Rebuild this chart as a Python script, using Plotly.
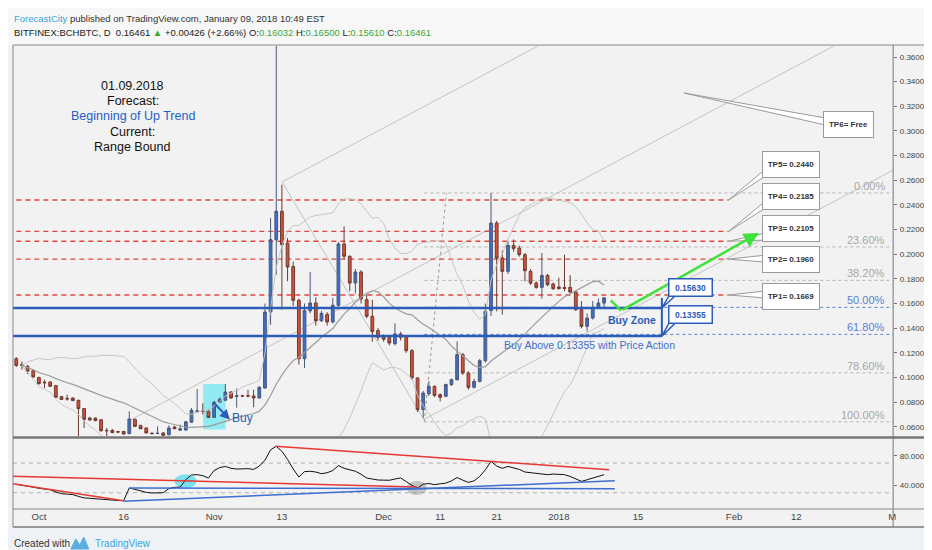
import pandas as pd
import plotly.graph_objects as go

W, H = 932, 550
FONT = "Liberation Sans, Arial, sans-serif"

# ---------------- data ----------------
start_date = "2017-09-27"

opens = [0.1152, 0.1103, 0.1090, 0.1055, 0.1000, 0.0962, 0.0963, 0.0933, 0.0844, 0.0830,
         0.0833, 0.0814, 0.0747, 0.0671, 0.0670, 0.0657, 0.0570, 0.0571, 0.0560, 0.0562,
         0.0544, 0.0660, 0.0611, 0.0590, 0.0548, 0.0545, 0.0550, 0.0535, 0.0598, 0.0572,
         0.0573, 0.0636, 0.0725, 0.0728, 0.0725, 0.0676, 0.0798, 0.0815, 0.0882, 0.0846,
         0.0850, 0.0851, 0.0850, 0.0833, 0.0914, 0.1531, 0.2118, 0.2348, 0.2090, 0.1900,
         0.1626, 0.1152, 0.1540, 0.1604, 0.1460, 0.1510, 0.1450, 0.1585, 0.2083, 0.1983,
         0.1766, 0.1856, 0.1631, 0.1496, 0.1380, 0.1330, 0.1326, 0.1274, 0.1353, 0.1330,
         0.1217, 0.0996, 0.0739, 0.0867, 0.0928, 0.0861, 0.0847, 0.0942, 0.0982, 0.1185,
         0.1036, 0.0920, 0.0968, 0.1136, 0.1542, 0.2253, 0.1969, 0.1861, 0.2072, 0.2050,
         0.1996, 0.1861, 0.1766, 0.1731, 0.1828, 0.1758, 0.1734, 0.1730, 0.1731, 0.1693,
         0.1550, 0.1415, 0.1482, 0.1569, 0.16032]

highs = [0.1165, 0.1130, 0.1103, 0.1062, 0.1005, 0.0982, 0.0968, 0.0940, 0.0850, 0.0860,
         0.0838, 0.0820, 0.0752, 0.0680, 0.0675, 0.0662, 0.0590, 0.0580, 0.0565, 0.0565,
         0.0725, 0.0665, 0.0615, 0.0594, 0.0552, 0.0603, 0.0555, 0.0612, 0.0605, 0.0617,
         0.0645, 0.0752, 0.0906, 0.0790, 0.0740, 0.0812, 0.0838, 0.0946, 0.0888, 0.0910,
         0.0860, 0.0900, 0.0900, 0.0930, 0.1600, 0.2294, 0.4900, 0.2564, 0.2132, 0.1940,
         0.1640, 0.1600, 0.1856, 0.1650, 0.1540, 0.1530, 0.1645, 0.2100, 0.2226, 0.1990,
         0.1880, 0.1870, 0.1670, 0.1630, 0.1400, 0.1350, 0.1340, 0.1440, 0.1370, 0.1340,
         0.1230, 0.1000, 0.0890, 0.0970, 0.0935, 0.0870, 0.0950, 0.0990, 0.1293, 0.1200,
         0.1050, 0.0990, 0.1150, 0.1600, 0.2496, 0.2270, 0.2030, 0.2110, 0.2120, 0.2070,
         0.2010, 0.1880, 0.1780, 0.2010, 0.1840, 0.1770, 0.1810, 0.1996, 0.1830, 0.1700,
         0.1620, 0.1520, 0.1620, 0.1640, 0.16500]

lows = [0.1085, 0.1063, 0.1028, 0.0998, 0.0942, 0.0914, 0.0925, 0.0835, 0.0818, 0.0812,
        0.0808, 0.0515, 0.0590, 0.0650, 0.0645, 0.0560, 0.0522, 0.0547, 0.0553, 0.0537,
        0.0540, 0.0598, 0.0580, 0.0545, 0.0540, 0.0540, 0.0525, 0.0530, 0.0580, 0.0570,
        0.0570, 0.0630, 0.0715, 0.0700, 0.0670, 0.0672, 0.0795, 0.0812, 0.0828, 0.0755,
        0.0840, 0.0840, 0.0758, 0.0830, 0.0910, 0.1428, 0.1834, 0.1550, 0.1780, 0.1580,
        0.1104, 0.1077, 0.1520, 0.1420, 0.1450, 0.1420, 0.1440, 0.1570, 0.1960, 0.1700,
        0.1680, 0.1600, 0.1480, 0.1290, 0.1300, 0.1290, 0.1260, 0.1260, 0.1300, 0.1200,
        0.0980, 0.0720, 0.0671, 0.0850, 0.0840, 0.0805, 0.0840, 0.0930, 0.0975, 0.1020,
        0.0900, 0.0910, 0.0960, 0.1120, 0.1500, 0.1536, 0.1510, 0.1840, 0.2020, 0.1980,
        0.1780, 0.1750, 0.1720, 0.1640, 0.1740, 0.1710, 0.1715, 0.1700, 0.1685, 0.1540,
        0.1400, 0.1374, 0.1470, 0.1560, 0.15610]

closes = [0.1098, 0.1098, 0.1050, 0.1004, 0.0950, 0.0957, 0.0928, 0.0839, 0.0822, 0.0826,
          0.0812, 0.0747, 0.0660, 0.0655, 0.0650, 0.0568, 0.0568, 0.0553, 0.0557, 0.0541,
          0.0663, 0.0603, 0.0584, 0.0550, 0.0544, 0.0547, 0.0530, 0.0590, 0.0584, 0.0584,
          0.0640, 0.0733, 0.0728, 0.0724, 0.0676, 0.0798, 0.0823, 0.0882, 0.0833, 0.0852,
          0.0850, 0.0849, 0.0833, 0.0920, 0.1531, 0.2118, 0.2348, 0.2077, 0.1896, 0.1626,
          0.1152, 0.1542, 0.1604, 0.1460, 0.1520, 0.1450, 0.1585, 0.2083, 0.1983, 0.1766,
          0.1856, 0.1637, 0.1496, 0.1374, 0.1326, 0.1310, 0.1280, 0.1353, 0.1326, 0.1217,
          0.0996, 0.0739, 0.0874, 0.0928, 0.0855, 0.0839, 0.0942, 0.0982, 0.1185, 0.1036,
          0.0920, 0.0968, 0.1136, 0.1536, 0.2253, 0.1969, 0.1861, 0.2072, 0.2045, 0.1996,
          0.1866, 0.1766, 0.1731, 0.1828, 0.1753, 0.1720, 0.1720, 0.1722, 0.1693, 0.1550,
          0.1415, 0.1482, 0.1569, 0.1604, 0.16461]

rsi_values = [41.5, 40.5, 39.0, 37.5, 36.0, 35.0, 34.0, 31.0, 28.7, 28.0,
              27.5, 25.0, 23.0, 22.5, 21.8, 21.0, 20.0, 19.6, 19.5, 19.3,
              36.4, 34.5, 32.5, 30.5, 29.6, 29.8, 30.0, 35.5, 37.3, 37.5,
              47.6, 54.0, 54.4, 53.0, 49.9, 60.0, 64.0, 65.5, 63.0, 62.0,
              62.5, 62.5, 61.5, 66.0, 74.0, 88.0, 92.7, 86.0, 75.0, 62.0,
              51.2, 58.5, 59.0, 58.0, 55.7, 57.0, 60.0, 66.6, 63.0, 61.5,
              59.0, 55.0, 49.9, 48.5, 47.2, 47.0, 46.8, 48.5, 50.0, 45.0,
              40.0, 36.4, 41.5, 42.5, 40.9, 42.0, 43.0, 46.0, 50.5, 47.0,
              44.0, 46.0, 52.0, 61.0, 72.4, 66.0, 63.0, 65.5, 64.0, 61.5,
              58.0, 57.0, 56.6, 55.5, 54.4, 55.2, 55.0, 54.4, 52.0, 48.5,
              45.4, 47.5, 50.0, 52.0, 54.4]

tp_levels = [0.1669, 0.1960, 0.2105, 0.2185, 0.2440]
tp_labels = ["TP1= 0.1669", "TP2= 0.1960", "TP3= 0.2105", "TP4= 0.2185", "TP5= 0.2440"]
tp6_label = "TP6= Free"
zone_levels = [0.15630, 0.13355]
zone_labels = ["0.15630", "0.13355"]
fib_top = 0.2497
fib_bottom = 0.0640
fib_ratios = [0.0, 0.236, 0.382, 0.5, 0.618, 0.786, 1.0]
fib_labels = ["0.00%", "23.60%", "38.20%", "50.00%", "61.80%", "78.60%", "100.00%"]
price_ticks = [0.06, 0.08, 0.10, 0.12, 0.14, 0.16, 0.18, 0.20, 0.22, 0.24,
               0.26, 0.28, 0.30, 0.32, 0.34, 0.36]
date_ticks = ["2017-10-01", "2017-10-16", "2017-11-01", "2017-11-13", "2017-12-01",
              "2017-12-11", "2017-12-21", "2018-01-01", "2018-01-15", "2018-02-01",
              "2018-02-12", "2018-03-01"]
date_tick_labels = ["Oct", "16", "Nov", "13", "Dec", "11", "21", "2018", "15", "Feb", "12", "M"]
rsi_ticks = [40, 80]

# drawing anchors (day offset from start, price / rsi value)
channel_lines = [(47.04, 0.2586, 72.26, 0.0647),
                 (47.04, 0.2586, 92.29, 0.3689),
                 (19.88, 0.0647, 144.66, 0.3689),
                 (72.26, 0.0663, 155.15, 0.2683)]
fib_start_day = 72.2
fib_diag = (72.2, 0.0640, 76.1, 0.2497)
tp_line_end_day = 126.05
zone_line_end_day = 114.23
buy_box = (33.05, 0.0577, 37.04, 0.0947)
buy_arrow = (35.0, 0.0793, 37.8, 0.0657)
green_path = [(105.2, 0.1626), (107.0, 0.1542), (131.4, 0.2172)]
rsi_lines_red = [(-0.63, 42.2, 18.98, 19.2), (-0.63, 52.2, 70.85, 37.7), (45.9, 92.7, 104.9, 61.1)]
rsi_lines_blue = [(18.98, 18.4, 105.9, 46.2), (20.0, 36.4, 105.9, 35.4)]
rsi_circles = [(28.0, 35.9, 31.9, 54.9, "rgba(60,215,235,0.65)"),
               (69.1, 26.9, 72.6, 45.9, "rgba(140,140,140,0.45)")]

# ---------------- geometry ----------------
PLOT_L, PLOT_R = 5, 888
PRICE_T, PRICE_B = 38, 428
RSI_T, RSI_B = 431, 501
IDX_L, IDX_R = -0.582, 155.15
P_LO, P_HI = 0.05249, 0.36893
R_LO, R_HI = 8.0, 102.6

base = pd.Timestamp(start_date)


def day(off):
    return (base + pd.Timedelta(days=off)).strftime("%Y-%m-%d %H:%M:%S")


def fx(px):
    return px / W


def fy(py):
    return 1 - py / H


def idx_px(i):
    return PLOT_L + (i - IDX_L) / (IDX_R - IDX_L) * (PLOT_R - PLOT_L)


def price_py(p):
    return PRICE_T + (P_HI - p) / (P_HI - P_LO) * (PRICE_B - PRICE_T)


def ppath(points):
    return "M " + " L ".join(f"{fx(x):.5f},{fy(y):.5f}" for x, y in points) + " Z"


dates = [day(i) for i in range(len(opens))]

cs = pd.Series(closes)
bb_mid = cs.rolling(20, min_periods=2).mean()
bb_std = cs.rolling(20, min_periods=2).std(ddof=0)
bb_up = bb_mid + 2 * bb_std
bb_lo = bb_mid - 2 * bb_std

fig = go.Figure()
for series, col, w in [(bb_up, "#c6c6c6", 1), (bb_lo, "#c6c6c6", 1), (bb_mid, "#9c9c9c", 1.2)]:
    fig.add_trace(go.Scatter(x=dates, y=series, mode="lines", line=dict(color=col, width=w),
                             hoverinfo="skip", showlegend=False, xaxis="x", yaxis="y"))

fig.add_trace(go.Candlestick(
    x=dates, open=opens, high=highs, low=lows, close=closes,
    increasing=dict(line=dict(color="#4a5878", width=1), fillcolor="#3d6fc6"),
    decreasing=dict(line=dict(color="#6e3a30", width=1), fillcolor="#d4513b"),
    whiskerwidth=0, hoverinfo="skip", showlegend=False, xaxis="x", yaxis="y"))

fig.add_trace(go.Scatter(x=dates, y=rsi_values, mode="lines", line=dict(color="#111", width=1),
                         hoverinfo="skip", showlegend=False, xaxis="x2", yaxis="y2"))

shapes = []
annots = []


def dline(x0, y0, x1, y1, color, width=1, dash="solid", xref="x", yref="y", layer="above"):
    shapes.append(dict(type="line", x0=x0, y0=y0, x1=x1, y1=y1, xref=xref, yref=yref,
                       line=dict(color=color, width=width, dash=dash), layer=layer))


# header / footer backgrounds
shapes.append(dict(type="rect", xref="paper", yref="paper", x0=0, x1=1, y0=fy(37), y1=1,
                   fillcolor="#f7f7f7", line=dict(width=0), layer="below"))
shapes.append(dict(type="rect", xref="paper", yref="paper", x0=0, x1=1, y0=0, y1=fy(519),
                   fillcolor="#eef2f6", line=dict(width=0), layer="below"))

# cyan buy box
shapes.append(dict(type="rect", xref="x", yref="y", x0=day(buy_box[0]), x1=day(buy_box[2]),
                   y0=buy_box[1], y1=buy_box[3], fillcolor="rgba(80,228,240,0.6)",
                   line=dict(width=0), layer="below"))

# channel / trend lines
for a, b, c, d in channel_lines:
    dline(day(a), b, day(c), d, "#c2c2c2", 1, layer="below")
dline(day(fib_diag[0]), fib_diag[1], day(fib_diag[2]), fib_diag[3], "#999", 1, "dot", layer="below")

# fib levels
for r, lab in zip(fib_ratios, fib_labels):
    lvl = fib_top - r * (fib_top - fib_bottom)
    blue = r in (0.5, 0.618)
    col = "#5b80d2" if blue else "#b4b4b4"
    dline(day(fib_start_day), lvl, day(IDX_R + 2), lvl, col, 1, "dot", layer="below")
    annots.append(dict(xref="paper", yref="y", x=fx(882), y=lvl, text=lab, showarrow=False,
                       xanchor="right", yanchor="bottom", yshift=-1,
                       font=dict(family=FONT, size=11, color="#5b80d2" if blue else "#a6a6a6")))

# TP dashed lines
for lvl in tp_levels:
    dline(day(IDX_L - 1), lvl, day(tp_line_end_day), lvl, "#e4463c", 1.4, "5px,4px", layer="below")

# buy zone lines
for lvl in zone_levels:
    dline(day(IDX_L - 1), lvl, day(zone_line_end_day), lvl, "#2a5cb8", 2.5)
dline(day(zone_line_end_day), zone_levels[1], day(zone_line_end_day), 0.1645, "#2a5cb8", 2)

# green arrow
dline(day(green_path[0][0]), green_path[0][1], day(green_path[1][0]), green_path[1][1], "#3ee23a", 2.5)
annots.append(dict(xref="x", yref="y", axref="x", ayref="y",
                   x=day(green_path[2][0]), y=green_path[2][1],
                   ax=day(green_path[1][0]), ay=green_path[1][1],
                   text="", showarrow=True, arrowhead=2, arrowsize=1.2, arrowwidth=2.5,
                   arrowcolor="#3ee23a", standoff=0, startstandoff=0))

# buy arrow
annots.append(dict(xref="x", yref="y", axref="x", ayref="y",
                   x=day(buy_arrow[2]), y=buy_arrow[3], ax=day(buy_arrow[0]), ay=buy_arrow[1],
                   text="", showarrow=True, arrowhead=2, arrowsize=1, arrowwidth=2,
                   arrowcolor="#2a5cb8", standoff=0))
annots.append(dict(xref="paper", yref="paper", x=fx(223), y=fy(410), text="Buy", showarrow=False,
                   xanchor="left", yanchor="middle",
                   font=dict(family=FONT, size=12, color="#2a5cb8")))

# RSI guide lines and drawings
for lvl in (70, 30):
    shapes.append(dict(type="line", xref="paper", yref="y2", x0=fx(PLOT_L), x1=fx(PLOT_R),
                       y0=lvl, y1=lvl, line=dict(color="#b0b0b0", width=1, dash="4px,4px"),
                       layer="below"))
for a, b, c, d in rsi_lines_red:
    dline(day(a), b, day(c), d, "#e53935", 1.5, xref="x2", yref="y2")
for a, b, c, d in rsi_lines_blue:
    dline(day(a), b, day(c), d, "#3e6ed0", 1.5, xref="x2", yref="y2")
for a, b, c, d, col in rsi_circles:
    shapes.append(dict(type="circle", xref="x2", yref="y2", x0=day(a), x1=day(c), y0=b, y1=d,
                       fillcolor=col, line=dict(width=0), layer="below"))

# TP callouts
tp_centers = [288.0, 251.8, 220.8, 188.7, 156.7]
tip_x = idx_px(tp_line_end_day)
for lvl, lab, cy in zip(tp_levels, tp_labels, tp_centers):
    ty = price_py(lvl)
    top, bot = cy - 13.3, cy + 13.3
    b1 = min(max(ty - 4, top + 2), bot - 9)
    shapes.append(dict(type="path", xref="paper", yref="paper",
                       path=ppath([(tip_x, ty), (760, b1), (760, b1 + 7)]),
                       fillcolor="white", line=dict(color="#9a9a9a", width=1)))
    annots.append(dict(xref="paper", yref="paper", x=fx(786), y=fy(cy), text=f"<b>{lab}</b>",
                       showarrow=False, xanchor="center", yanchor="middle",
                       width=52, height=21, borderpad=2, borderwidth=1,
                       bordercolor="#9a9a9a", bgcolor="white",
                       font=dict(family=FONT, size=8, color="#333")))
shapes.append(dict(type="path", xref="paper", yref="paper",
                   path=ppath([(678.3, 85), (820, 110), (820, 117)]),
                   fillcolor="white", line=dict(color="#9a9a9a", width=1)))
annots.append(dict(xref="paper", yref="paper", x=fx(843), y=fy(116.7), text=f"<b>{tp6_label}</b>",
                   showarrow=False, xanchor="center", yanchor="middle",
                   width=45, height=21, borderpad=2, borderwidth=1,
                   bordercolor="#9a9a9a", bgcolor="white",
                   font=dict(family=FONT, size=8, color="#333")))

# buy zone callouts
zone_centers = [279.2, 306.5]
zx_tip = idx_px(zone_line_end_day)
for lvl, lab, cy in zip(zone_levels, zone_labels, zone_centers):
    bot = cy + 9
    shapes.append(dict(type="path", xref="paper", yref="paper",
                       path=ppath([(zx_tip, price_py(lvl)), (663.5, bot - 1), (670, bot - 1)]),
                       fillcolor="white", line=dict(color="#2a5cb8", width=1.5)))
    annots.append(dict(xref="paper", yref="paper", x=fx(684.7), y=fy(cy), text=f"<b>{lab}</b>",
                       showarrow=False, xanchor="center", yanchor="middle",
                       width=38, height=12, borderpad=2, borderwidth=1.5,
                       bordercolor="#2a5cb8", bgcolor="white",
                       font=dict(family=FONT, size=8.5, color="#2a5cb8")))

annots.append(dict(xref="paper", yref="paper", x=fx(626), y=fy(312), text="<b>Buy Zone</b>",
                   showarrow=False, xanchor="center", yanchor="middle",
                   font=dict(family=FONT, size=10.5, color="#2a5cb8")))
annots.append(dict(xref="paper", yref="paper", x=fx(496), y=fy(336.5),
                   text="Buy Above 0.13355 with Price Action", showarrow=False,
                   xanchor="left", yanchor="middle",
                   font=dict(family=FONT, size=10.5, color="#3f6fc8")))

# forecast block
for txt, yy, col in [("01.09.2018", 78.0, "#111"), ("Forecast:", 92.5, "#111"),
                     ("Beginning of Up Trend", 108.3, "#1f5fc6"), ("Current:", 124.0, "#111"),
                     ("Range Bound", 138.5, "#111")]:
    annots.append(dict(xref="paper", yref="paper", x=fx(125), y=fy(yy), text=txt,
                       showarrow=False, xanchor="center", yanchor="middle",
                       font=dict(family=FONT, size=12.5, color=col)))

# header
annots.append(dict(xref="paper", yref="paper", x=fx(4), y=fy(10),
                   text="<span style='color:#3ba4dd'>ForecastCity</span> published on TradingView.com, January 09, 2018 10:49 EST",
                   showarrow=False, xanchor="left", yanchor="middle",
                   font=dict(family=FONT, size=9.5, color="#333")))
g = "#3aa83a"
annots.append(dict(xref="paper", yref="paper", x=fx(4), y=fy(25),
                   text=("BITFINEX:BCHBTC, D  0.16461 <span style='color:%s'>▲</span> +0.00426 (+2.66%%) "
                         "O:<span style='color:%s'>0.16032</span> H:<span style='color:%s'>0.16500</span> "
                         "L:<span style='color:%s'>0.15610</span> C:<span style='color:%s'>0.16461</span>")
                   % (g, g, g, g, g),
                   showarrow=False, xanchor="left", yanchor="middle",
                   font=dict(family=FONT, size=9.5, color="#222")))

# footer
annots.append(dict(xref="paper", yref="paper", x=fx(4), y=fy(535), text="Created with",
                   showarrow=False, xanchor="left", yanchor="middle",
                   font=dict(family=FONT, size=10, color="#333")))
annots.append(dict(xref="paper", yref="paper", x=fx(85), y=fy(535), text="TradingView",
                   showarrow=False, xanchor="left", yanchor="middle",
                   font=dict(family=FONT, size=10, color="#3ba4dd")))
shapes.append(dict(type="path", xref="paper", yref="paper",
                   path=ppath([(63, 541), (68, 531), (72, 537), (76, 529), (81, 541)]),
                   fillcolor="#5aaee3", line=dict(color="#5aaee3", width=1)))

# pane borders
for (x0, y0, x1, y1, col, w) in [(PLOT_L, 37, W, 37, "#888", 1),
                                  (PLOT_L, 37, PLOT_L, 519, "#888", 1),
                                  (PLOT_R, 37, PLOT_R, 519, "#777", 1),
                                  (PLOT_L, 429.5, W, 429.5, "#777", 2.5),
                                  (PLOT_L, 501, W, 501, "#888", 1),
                                  (PLOT_L, 519, W, 519, "#999", 2)]:
    shapes.append(dict(type="line", xref="paper", yref="paper", x0=fx(x0), x1=fx(x1),
                       y0=fy(y0), y1=fy(y1), line=dict(color=col, width=w)))

fig.update_layout(
    width=W, height=H, autosize=False,
    margin=dict(l=0, r=0, t=0, b=0),
    paper_bgcolor="#f2f2f2", plot_bgcolor="#f2f2f2",
    showlegend=False, hovermode=False,
    font=dict(family=FONT),
    xaxis=dict(domain=[fx(PLOT_L), fx(PLOT_R)], type="date", range=[day(IDX_L), day(IDX_R)],
               showticklabels=False, showgrid=False, zeroline=False, anchor="y",
               rangeslider=dict(visible=False), fixedrange=True),
    yaxis=dict(domain=[fy(PRICE_B), fy(PRICE_T)], range=[P_LO, P_HI], side="right", anchor="x",
               tickvals=price_ticks, ticktext=[f"{v:.5f}" for v in price_ticks],
               showgrid=False, zeroline=False, ticks="outside", ticklen=3, tickcolor="#777",
               ticklabelstandoff=1,
               tickfont=dict(family=FONT, size=8, color="#444")),
    xaxis2=dict(domain=[fx(PLOT_L), fx(PLOT_R)], type="date", matches="x", anchor="y2",
                tickvals=date_ticks, ticktext=date_tick_labels, showgrid=False, zeroline=False,
                ticks="", tickfont=dict(family=FONT, size=9.5, color="#444")),
    yaxis2=dict(domain=[fy(RSI_B), fy(RSI_T)], range=[R_LO, R_HI], side="right", anchor="x2",
                tickvals=rsi_ticks, ticktext=[f"{v:.4f}" for v in rsi_ticks],
                showgrid=False, zeroline=False, ticks="outside", ticklen=3, tickcolor="#777",
                ticklabelstandoff=1,
                tickfont=dict(family=FONT, size=8, color="#444")),
    shapes=shapes, annotations=annots,
)

fig.write_html("out.html")
